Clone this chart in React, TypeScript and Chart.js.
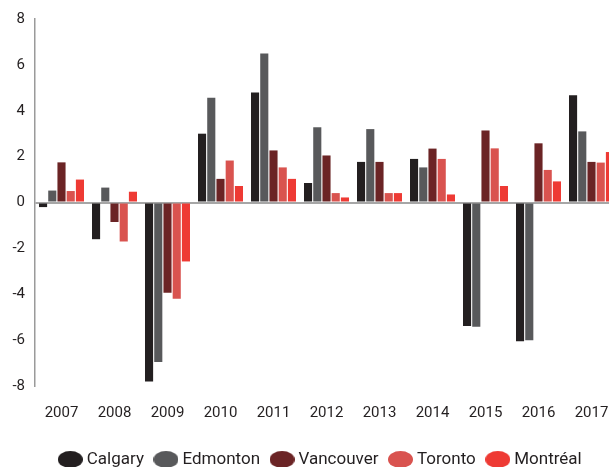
import React, { useEffect, useRef } from "react";
import { Chart, registerables } from "chart.js";

Chart.register(...registerables);

const years = ["2007", "2008", "2009", "2010", "2011", "2012", "2013", "2014", "2015", "2016", "2017"];
const calgary = [-0.2, -1.6, -7.8, 3.0, 4.8, 0.85, 1.77, 1.9, -5.38, -6.05, 4.68];
const edmonton = [0.52, 0.65, -6.95, 4.57, 6.5, 3.28, 3.2, 1.53, -5.42, -6.0, 3.1];
const vancouver = [1.75, -0.85, -3.93, 1.03, 2.27, 2.05, 1.77, 2.35, 3.14, 2.58, 1.77];
const toronto = [0.5, -1.7, -4.2, 1.83, 1.53, 0.41, 0.41, 1.9, 2.36, 1.42, 1.74];
const montreal = [1.0, 0.47, -2.57, 0.72, 1.03, 0.22, 0.41, 0.35, 0.72, 0.92, 2.2];
const seriesNames = ["Calgary", "Edmonton", "Vancouver", "Toronto", "Montréal"];
const seriesColors = ["#231f20", "#58595b", "#6b2425", "#d9534f", "#ee3a34"];
const yTicks = [-8, -6, -4, -2, 0, 2, 4, 6, 8];

const FONT = "Roboto, 'Open Sans', sans-serif";

function ellipse(color: string) {
  const c = document.createElement("canvas");
  c.width = 25;
  c.height = 17;
  const ctx = c.getContext("2d")!;
  ctx.fillStyle = color;
  ctx.beginPath();
  ctx.ellipse(12.5, 8.5, 12.5, 8.5, 0, 0, Math.PI * 2);
  ctx.fill();
  return c;
}

export default function App() {
  const ref = useRef<HTMLCanvasElement | null>(null);
  useEffect(() => {
    if (!ref.current) return;
    const data = [calgary, edmonton, vancouver, toronto, montreal];
    const chart = new Chart(ref.current, {
      type: "bar",
      data: {
        labels: years,
        datasets: data.map((d, i) => ({
          label: seriesNames[i],
          data: d,
          backgroundColor: seriesColors[i],
          borderWidth: 0,
          categoryPercentage: 0.87,
          barPercentage: 0.88,
        })),
      },
      options: {
        animation: false,
        responsive: false,
        maintainAspectRatio: false,
        layout: { padding: { left: 0, right: 0, top: 16, bottom: 0 } },
        plugins: {
          tooltip: { enabled: false },
          legend: {
            position: "bottom",
            labels: {
              color: "#231f20",
              font: { family: FONT, size: 17 },
              usePointStyle: true,
              pointStyleWidth: 16,
              padding: 14,
              generateLabels: (ch: any) =>
                ch.data.datasets.map((ds: any, i: number) => ({
                  text: ds.label,
                  fillStyle: seriesColors[i],
                  strokeStyle: seriesColors[i],
                  lineWidth: 0,
                  pointStyle: ellipse(seriesColors[i]),
                  hidden: false,
                  datasetIndex: i,
                  fontColor: "#231f20",
                })),
            },
          },
        },
        scales: {
          x: {
            grid: { display: false, drawTicks: false },
            border: { display: false },
            afterFit: (s: any) => {
              s.height = 51;
            },
            ticks: { color: "#231f20", font: { family: FONT, size: 15 }, padding: 18, maxRotation: 0 },
          },
          y: {
            min: -8,
            max: 8,
            afterFit: (s: any) => {
              s.width = 35;
            },
            afterBuildTicks: (s: any) => {
              s.ticks = yTicks.map((v) => ({ value: v }));
            },
            grid: {
              drawTicks: false,
              color: (ctx: any) => (ctx.tick && ctx.tick.value === 0 ? "#a6a6a6" : "rgba(0,0,0,0)"),
              lineWidth: 2,
            },
            border: { display: true, color: "#9a9a9a", width: 1.5 },
            ticks: { color: "#231f20", font: { family: FONT, size: 15 }, padding: 10 },
          },
          y2: {
            position: "right",
            min: -8,
            max: 8,
            grid: { display: false, drawTicks: false },
            border: { display: false },
            ticks: { display: false },
            afterFit: (s: any) => {
              s.width = 26;
            },
          },
        },
      },
    });
    return () => chart.destroy();
  }, []);
  return (
    <div style={{ position: "fixed", left: 0, top: 0, width: 609, height: 467, overflow: "hidden", background: "#fff" }}>
      <canvas ref={ref} width={644} height={478} style={{ width: 644, height: 478, display: "block" }} />
    </div>
  );
}
